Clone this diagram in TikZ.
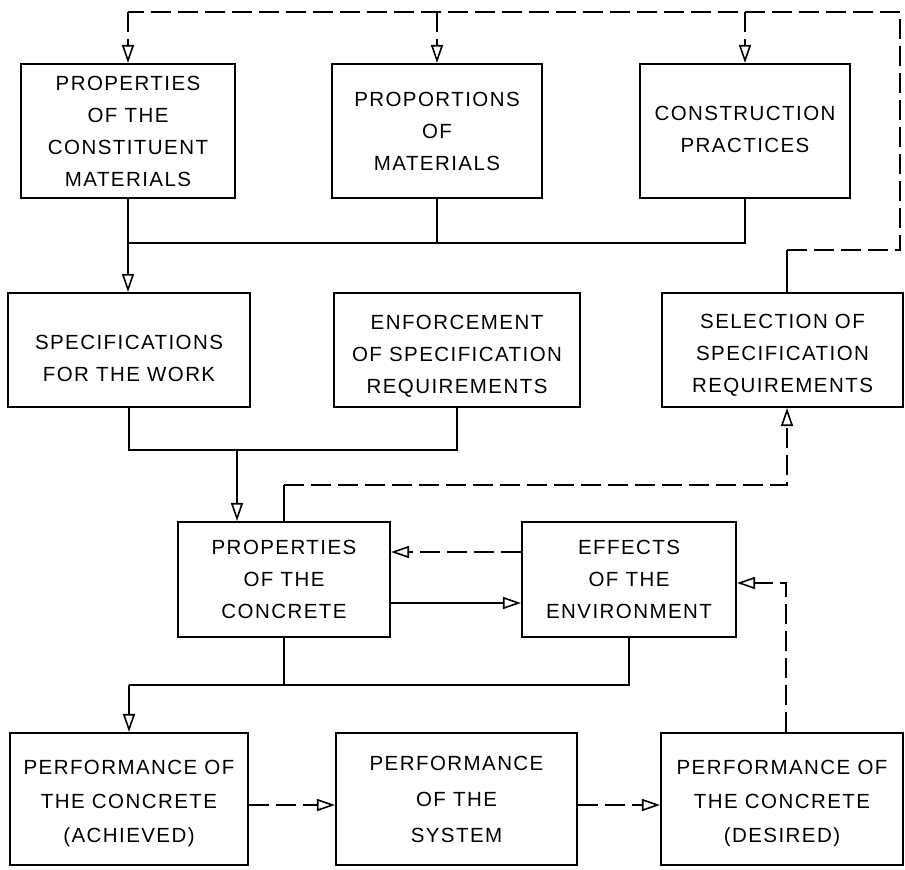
\documentclass[tikz,border=0pt]{standalone}
\usepackage{fontspec}
\setmainfont{Liberation Sans}[LetterSpace=7]
\usetikzlibrary{arrows.meta}
\begin{document}
\begin{tikzpicture}[x=1pt,y=-1pt,
  box/.style={draw, line width=2.1pt, inner sep=0pt},
  txt/.style={align=center, inner sep=0pt, font=\fontsize{20.5}{32}\selectfont},
  ln/.style={line width=2.1pt},
  dsh/.style={ln, dash pattern=on 20pt off 7pt},
  arr/.style={-{Triangle[open,length=18pt,width=12pt,line width=1.6pt]}}]
\useasboundingbox (0,0) rectangle (905,870);
% row 1
\node[box, minimum width=214pt, minimum height=134pt] (A) at (128,131) {};
\node[txt] (At) at (A.center) {PROPERTIES\\OF THE\\CONSTITUENT\\MATERIALS};
\node[box, minimum width=210pt, minimum height=134pt] (B) at (437,131) {};
\node[txt] (Bt) at (B.center) {PROPORTIONS\\OF\\MATERIALS};
\node[box, minimum width=210pt, minimum height=134pt] (C) at (745,131) {};
\node[txt] (Ct) at ([yshift=2pt]C.center) {CONSTRUCTION\\PRACTICES};
% row 2
\node[box, minimum width=242pt, minimum height=114pt] (D) at (129,350) {};
\node[txt] (Dt) at ([yshift=-8pt]D.center) {SPECIFICATIONS\\FOR THE WORK};
\node[box, minimum width=246pt, minimum height=114pt] (E) at (457,350) {};
\node[txt] (Et) at ([yshift=-6pt]E.center) {ENFORCEMENT\\OF SPECIFICATION\\REQUIREMENTS};
\node[box, minimum width=241pt, minimum height=114pt] (F) at (782.5,350) {};
\node[txt] (Ft) at ([yshift=-5pt]F.center) {SELECTION OF\\SPECIFICATION\\REQUIREMENTS};
% row 3
\node[box, minimum width=212pt, minimum height=115pt] (G) at (284,579.5) {};
\node[txt] (Gt) at (G.center) {PROPERTIES\\OF THE\\CONCRETE};
\node[box, minimum width=214pt, minimum height=115pt] (H) at (629,579.5) {};
\node[txt] (Ht) at (H.center) {EFFECTS\\OF THE\\ENVIRONMENT};
% row 4
\node[box, minimum width=238pt, minimum height=132pt] (I) at (129,799) {};
\node[txt, font=\fontsize{20.5}{34}\selectfont] (It) at ([yshift=-4pt]I.center) {PERFORMANCE OF\\THE CONCRETE\\(ACHIEVED)};
\node[box, minimum width=241pt, minimum height=132pt] (J) at (456.5,799) {};
\node[txt, font=\fontsize{20.5}{36}\selectfont] (Jt) at (J.center) {PERFORMANCE\\OF THE\\SYSTEM};
\node[box, minimum width=242pt, minimum height=132pt] (K) at (782,799) {};
\node[txt, font=\fontsize{20.5}{34}\selectfont] (Kt) at ([yshift=-4pt]K.center) {PERFORMANCE OF\\THE CONCRETE\\(DESIRED)};

% row 1 -> specifications
\coordinate (j1) at (0,243);
\draw[ln] (A.south) -- (A.south |- j1) -- (C.south |- j1) -- (C.south);
\draw[ln] (B.south) -- (B.south |- j1);
\draw[ln,arr] (A.south |- j1) -- (D.north -| A.south);

% top feedback from selection
\coordinate (fbT) at (900,12);
\coordinate (fbB) at (900,250);
\coordinate (xf) at (787,0);
\draw[ln] (F.north -| xf) -- (xf |- fbB);
\draw[dsh] (xf |- fbB) -- (fbB) -- (fbT) -- (A.north |- fbT);
\draw[dsh,arr] (A.north |- fbT) -- (A.north);
\draw[dsh,arr] (B.north |- fbT) -- (B.north);
\draw[dsh,arr] (C.north |- fbT) -- (C.north);

% row 2 -> properties of concrete
\coordinate (j2) at (237,450);
\draw[ln] (D.south) -- (D.south |- j2) -- (E.south |- j2) -- (E.south);
\draw[ln,arr] (j2) -- (j2 |- G.north);

% properties of concrete -> selection
\coordinate (j3) at (787,485);
\draw[ln] (G.north) -- (G.north |- j3);
\draw[dsh,arr] (G.north |- j3) -- (j3) -- (j3 |- F.south);

% concrete <-> environment
\coordinate (y1) at (0,552);
\coordinate (y2) at (0,603);
\draw[dsh,arr] (H.west |- y1) -- (G.east |- y1);
\draw[ln,arr] (G.east |- y2) -- (H.west |- y2);

% desired -> environment
\coordinate (j4) at (786,583);
\draw[dsh,arr] (j4 |- K.north) -- (j4) -- (H.east |- j4);

% concrete, environment -> achieved
\coordinate (j5) at (0,685);
\draw[ln] (G.south) -- (G.south |- j5);
\draw[ln] (H.south) -- (H.south |- j5) -- (I.north |- j5);
\draw[ln,arr] (I.north |- j5) -- (I.north);

% bottom row
\coordinate (y3) at (0,805);
\draw[dsh,arr] (I.east |- y3) -- (J.west |- y3);
\draw[dsh,arr] (J.east |- y3) -- (K.west |- y3);
\end{tikzpicture}
\end{document}
